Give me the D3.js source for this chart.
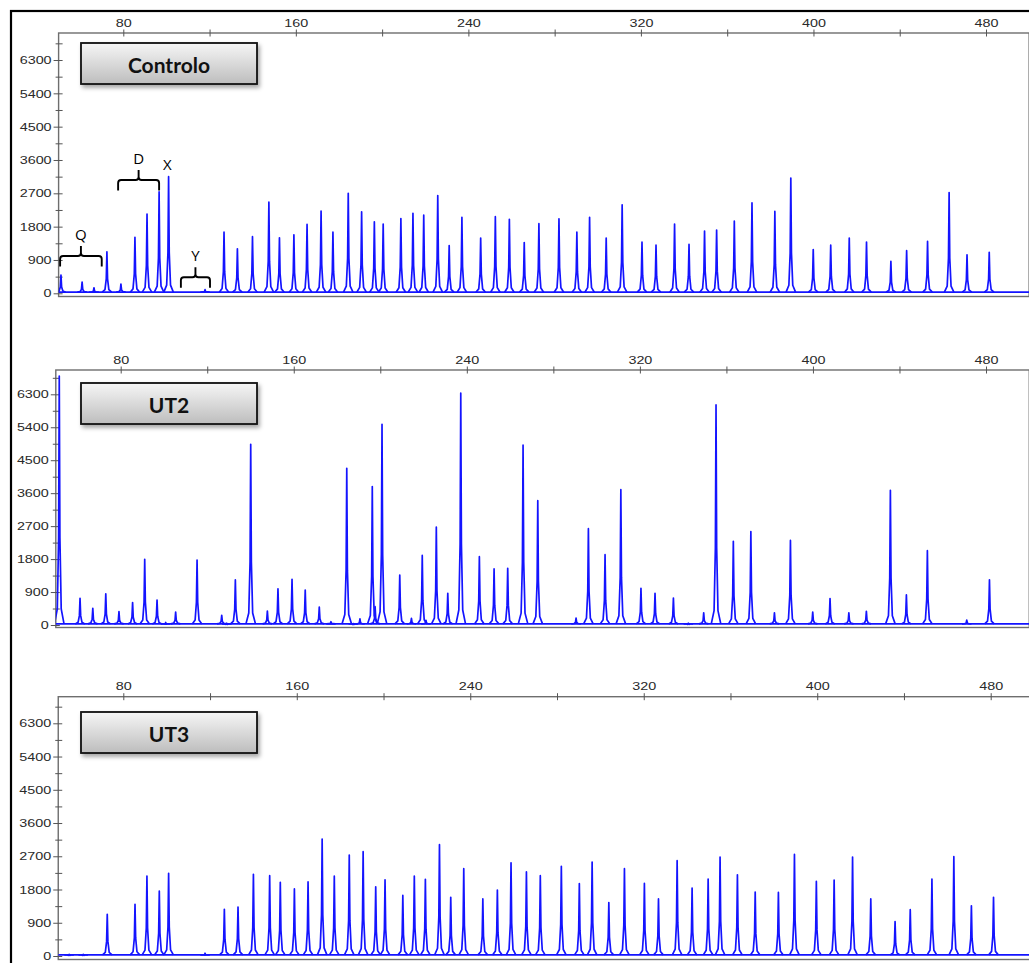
<!DOCTYPE html>
<html>
<head>
<meta charset="utf-8">
<script src="https://cdn.jsdelivr.net/npm/d3@7"></script>
<style>
  body { margin: 0; background: #fff; }
  svg { display: block; }
</style>
</head>
<body>
<div id="container"></div>
<script>
// peak sizes (bp) and heights (RFU)
var controloSizes = [51.1, 60.9, 66.4, 72.4, 78.9, 85.4, 91.0, 96.6, 101.0, 117.9, 126.7, 132.9, 139.9, 147.5, 152.4, 159.1, 165.2, 171.7, 177.2, 184.3, 190.5, 196.4, 200.5, 208.7, 214.3, 219.3, 225.8, 231.1, 237.0, 245.7, 252.5, 259.0, 265.9, 272.7, 282.0, 290.3, 296.2, 303.9, 311.3, 320.5, 327.0, 335.6, 342.3, 349.5, 355.1, 363.3, 371.5, 382.1, 389.5, 399.9, 408.0, 416.6, 424.6, 435.9, 443.2, 452.9, 462.9, 471.2, 481.5];
var controloHeights = [490, 300, 150, 1120, 250, 1510, 2140, 2740, 3150, 100, 1650, 1200, 1530, 2460, 1500, 1580, 1860, 2220, 1650, 2700, 2200, 1930, 1870, 2020, 2160, 2110, 2640, 1290, 2050, 1490, 2070, 2000, 1370, 1880, 2010, 1650, 2050, 1490, 2390, 1380, 1300, 1870, 1320, 1680, 1710, 1950, 2440, 2210, 3110, 1180, 1300, 1490, 1385, 865, 1150, 1400, 2720, 1040, 1105];

var ut2Sizes = [51.6, 61.2, 67.1, 73.1, 79.2, 85.5, 91.1, 96.8, 100.8, 105.4, 115.3, 126.7, 129.0, 133.0, 140.1, 147.8, 152.7, 159.2, 165.3, 171.8, 177.2, 184.5, 187.5, 190.6, 196.3, 197.6, 200.8, 209.0, 214.4, 219.4, 221.1, 225.9, 231.2, 237.2, 245.8, 252.6, 258.9, 266.0, 272.8, 290.5, 296.2, 303.9, 311.2, 320.5, 327.0, 335.5, 342.4, 349.5, 355.2, 363.2, 371.3, 382.2, 389.6, 399.9, 407.9, 416.6, 424.7, 435.8, 443.2, 452.9, 471.1, 481.6];
var ut2Heights = [6800, 730, 455, 850, 365, 610, 1795, 680, 70, 355, 1775, 265, 50, 1230, 4935, 380, 990, 1250, 955, 490, 90, 4280, 40, 165, 3780, 500, 5480, 1365, 180, 1900, 130, 2675, 865, 6330, 1865, 1530, 1550, 4910, 3395, 190, 2630, 1920, 3695, 1000, 865, 735, 50, 335, 6010, 2285, 2550, 330, 2310, 355, 720, 335, 375, 3680, 820, 2030, 135, 1235];

var ut3Sizes = [55.0, 61.5, 72.6, 85.4, 90.9, 96.6, 100.9, 117.7, 126.6, 132.9, 140.0, 147.5, 152.4, 158.9, 165.2, 171.7, 177.3, 184.2, 190.6, 196.4, 200.7, 208.9, 214.2, 219.3, 225.8, 231.0, 237.0, 245.8, 252.5, 258.8, 265.9, 272.3, 282.0, 290.3, 296.2, 303.9, 311.1, 320.3, 326.8, 335.4, 342.3, 349.7, 355.2, 363.2, 371.4, 382.1, 389.5, 399.6, 407.8, 416.3, 424.7, 435.9, 442.9, 452.9, 463.0, 471.1, 481.3];
var ut3Heights = [45, 45, 1130, 1400, 2165, 1760, 2240, 75, 1265, 1325, 2210, 2175, 1995, 1815, 2005, 3165, 2160, 2735, 2825, 1875, 2065, 1640, 2165, 2075, 3015, 1590, 2365, 1545, 1785, 2525, 2275, 2175, 2430, 1960, 2545, 1445, 2365, 1965, 1545, 2580, 1840, 2085, 2680, 2200, 1730, 1720, 2750, 2020, 2055, 2680, 1545, 930, 1255, 2085, 2690, 1360, 1590];

var panelNames = ["Controlo", "UT2", "UT3"];

// axis ticks
var xMajorTicks = [80, 160, 240, 320, 400, 480];
var xMinorTicks = [120, 200, 280, 360, 440];
var yMajorTicks = [0, 900, 1800, 2700, 3600, 4500, 5400, 6300];
var yMinorTicks = [450, 1350, 2250, 3150, 4050, 4950, 5850, 6750];

// annotations on the control trace (bp, RFU)
var bracketLabels = ["Q", "D", "Y"];
var bracketFrom = [50.7, 77.6, 106.7];
var bracketTo = [70.0, 96.6, 120.2];
var bracketLevel = [1007, 3059, 432];
var xMarkSize = 100.4, xMarkLevel = 3490;

var sizeDomain = [50, 500];
var baseline = 30;

// layout of the three panels (pixels)
var layout = [
    { x80: 123.3, x480: 986.0, top: 33.0, bottom: 296.5, zero: 293.3, y6300: 60.0, boxTop: 43 },
    { x80: 120.7, x480: 986.0, top: 370.0, bottom: 627.5, zero: 625.0, y6300: 394.3, boxTop: 383 },
    { x80: 123.3, x480: 990.7, top: 696.7, bottom: 959.5, zero: 956.0, y6300: 723.3, boxTop: 712 }
];

var series = [
    { sizes: controloSizes, heights: controloHeights },
    { sizes: ut2Sizes, heights: ut2Heights },
    { sizes: ut3Sizes, heights: ut3Heights }
];

var svg = d3.select("div#container")
    .append("svg")
    .attr("width", 1029)
    .attr("height", 963);

var defs = svg.append("defs");

var grad = defs.append("linearGradient")
    .attr("id", "boxGrad")
    .attr("x1", 0).attr("y1", 0).attr("x2", 0).attr("y2", 1);
grad.append("stop").attr("offset", "0%").attr("stop-color", "#f6f6f6");
grad.append("stop").attr("offset", "100%").attr("stop-color", "#bdbdbd");

var shadow = defs.append("filter")
    .attr("id", "boxShadow")
    .attr("x", "-10%").attr("y", "-20%")
    .attr("width", "130%").attr("height", "160%");
shadow.append("feDropShadow")
    .attr("dx", 2).attr("dy", 3)
    .attr("stdDeviation", 2)
    .attr("flood-color", "#000")
    .attr("flood-opacity", 0.35);

// outer frame (right and bottom run off the picture)
svg.append("rect")
    .attr("x", 11).attr("y", 11)
    .attr("width", 1040).attr("height", 980)
    .attr("fill", "none")
    .attr("stroke", "#000")
    .attr("stroke-width", 2.2);

function peakPoints(s, h) {
    var b = baseline;
    return [[s - 2.2, b], [s - 0.9, b + 0.06 * h], [s - 0.3, 0.35 * h], [s, h],
            [s + 0.3, 0.35 * h], [s + 0.9, b + 0.06 * h], [s + 2.2, b]];
}

layout.forEach(function (p, i) {
    var x = d3.scaleLinear().domain([80, 480]).range([p.x80, p.x480]);
    var y = d3.scaleLinear().domain([0, 6300]).range([p.zero, p.y6300]);
    var xl = x(sizeDomain[0]), xr = x(sizeDomain[1]);

    var g = svg.append("g").attr("class", "panel");

    defs.append("clipPath").attr("id", "clip" + i)
        .append("rect")
        .attr("x", xl).attr("y", p.top)
        .attr("width", xr - xl).attr("height", p.bottom - p.top);

    // plot frame
    g.append("rect")
        .attr("x", xl).attr("y", p.top)
        .attr("width", xr - xl).attr("height", p.bottom - p.top)
        .attr("fill", "none")
        .attr("stroke", "#6e6e6e")
        .attr("stroke-width", 1.4);

    // top axis
    var xAxis = g.append("g")
        .attr("transform", "translate(0," + p.top + ")")
        .call(d3.axisTop(x)
            .tickValues(xMajorTicks.concat(xMinorTicks))
            .tickSize(3.5)
            .tickSizeOuter(0)
            .tickPadding(3)
            .tickFormat(function (d) { return xMajorTicks.indexOf(d) >= 0 ? d : ""; }));
    xAxis.select(".domain").remove();
    xAxis.selectAll("line").attr("y1", 3.5).attr("stroke", "#555");
    xAxis.selectAll("text")
        .attr("transform", "scale(1.25,1)")
        .style("font-family", "'Liberation Sans', Arial, sans-serif")
        .style("font-size", "11.5px")
        .attr("fill", "#2a2a2a");

    // left axis
    var yAxis = g.append("g")
        .attr("transform", "translate(" + xl + ",0)")
        .call(d3.axisLeft(y)
            .tickValues(yMajorTicks.concat(yMinorTicks))
            .tickSize(5)
            .tickSizeOuter(0)
            .tickFormat(function (d) { return yMajorTicks.indexOf(d) >= 0 ? d : ""; }));
    yAxis.select(".domain").remove();
    yAxis.selectAll("line")
        .attr("x1", 4)
        .attr("x2", function (d) { return yMajorTicks.indexOf(d) >= 0 ? -5 : -3; })
        .attr("stroke", "#555");
    yAxis.selectAll("text")
        .attr("x", -5.6)
        .attr("transform", "scale(1.25,1)")
        .style("font-family", "'Liberation Sans', Arial, sans-serif")
        .style("font-size", "11.5px")
        .attr("fill", "#2a2a2a");

    // trace
    var line = d3.line()
        .x(function (d) { return x(d[0]); })
        .y(function (d) { return y(d[1]); });

    var trace = g.append("g").attr("clip-path", "url(#clip" + i + ")");

    trace.append("path")
        .datum([[sizeDomain[0], baseline], [sizeDomain[1], baseline]])
        .attr("d", line)
        .attr("fill", "none")
        .attr("stroke", "#1414ff")
        .attr("stroke-width", 1.7);

    var s = series[i];
    trace.selectAll("path.peak")
        .data(s.sizes.map(function (d, k) { return peakPoints(d, s.heights[k]); }))
        .enter()
        .append("path")
        .attr("class", "peak")
        .attr("d", line)
        .attr("fill", "none")
        .attr("stroke", "#1414ff")
        .attr("stroke-width", 1.7)
        .attr("stroke-linejoin", "round");

    // sample label box
    g.append("rect")
        .attr("x", 81).attr("y", p.boxTop)
        .attr("width", 176).attr("height", 41)
        .attr("fill", "url(#boxGrad)")
        .attr("stroke", "#111")
        .attr("stroke-width", 1.8)
        .attr("filter", "url(#boxShadow)");
    g.append("text")
        .attr("x", 169).attr("y", p.boxTop + 21)
        .attr("text-anchor", "middle")
        .attr("dominant-baseline", "central")
        .style("font-family", "Lato, 'Open Sans', sans-serif")
        .style("font-weight", "bold")
        .style("font-size", "21px")
        .attr("fill", "#111")
        .text(panelNames[i]);

    if (i === 0) {
        var arm = 10.5, notch = 10, r = 3;
        bracketLabels.forEach(function (lab, k) {
            var x1 = x(bracketFrom[k]), x2 = x(bracketTo[k]);
            var xm = (x1 + x2) / 2, yh = y(bracketLevel[k]);
            var d = "M" + x1 + "," + (yh + arm) +
                " L" + x1 + "," + (yh + r) +
                " Q" + x1 + "," + yh + " " + (x1 + r) + "," + yh +
                " L" + (xm - r) + "," + yh +
                " Q" + xm + "," + yh + " " + xm + "," + (yh - r) +
                " L" + xm + "," + (yh - notch) +
                " M" + xm + "," + (yh - r) +
                " Q" + xm + "," + yh + " " + (xm + r) + "," + yh +
                " L" + (x2 - r) + "," + yh +
                " Q" + x2 + "," + yh + " " + x2 + "," + (yh + r) +
                " L" + x2 + "," + (yh + arm);
            g.append("path")
                .attr("d", d)
                .attr("fill", "none")
                .attr("stroke", "#000")
                .attr("stroke-width", 1.9);
            g.append("text")
                .attr("x", xm).attr("y", yh - notch - 12)
                .attr("text-anchor", "middle")
                .attr("dominant-baseline", "central")
                .style("font-family", "'Open Sans', Arial, sans-serif")
                .style("font-size", "15px")
                .attr("fill", "#000")
                .text(lab);
        });
        g.append("text")
            .attr("x", x(xMarkSize)).attr("y", y(xMarkLevel))
            .attr("text-anchor", "middle")
            .attr("dominant-baseline", "central")
            .style("font-family", "'Open Sans', Arial, sans-serif")
            .style("font-size", "15px")
            .attr("fill", "#000")
            .text("X");
    }
});
</script>
</body>
</html>
